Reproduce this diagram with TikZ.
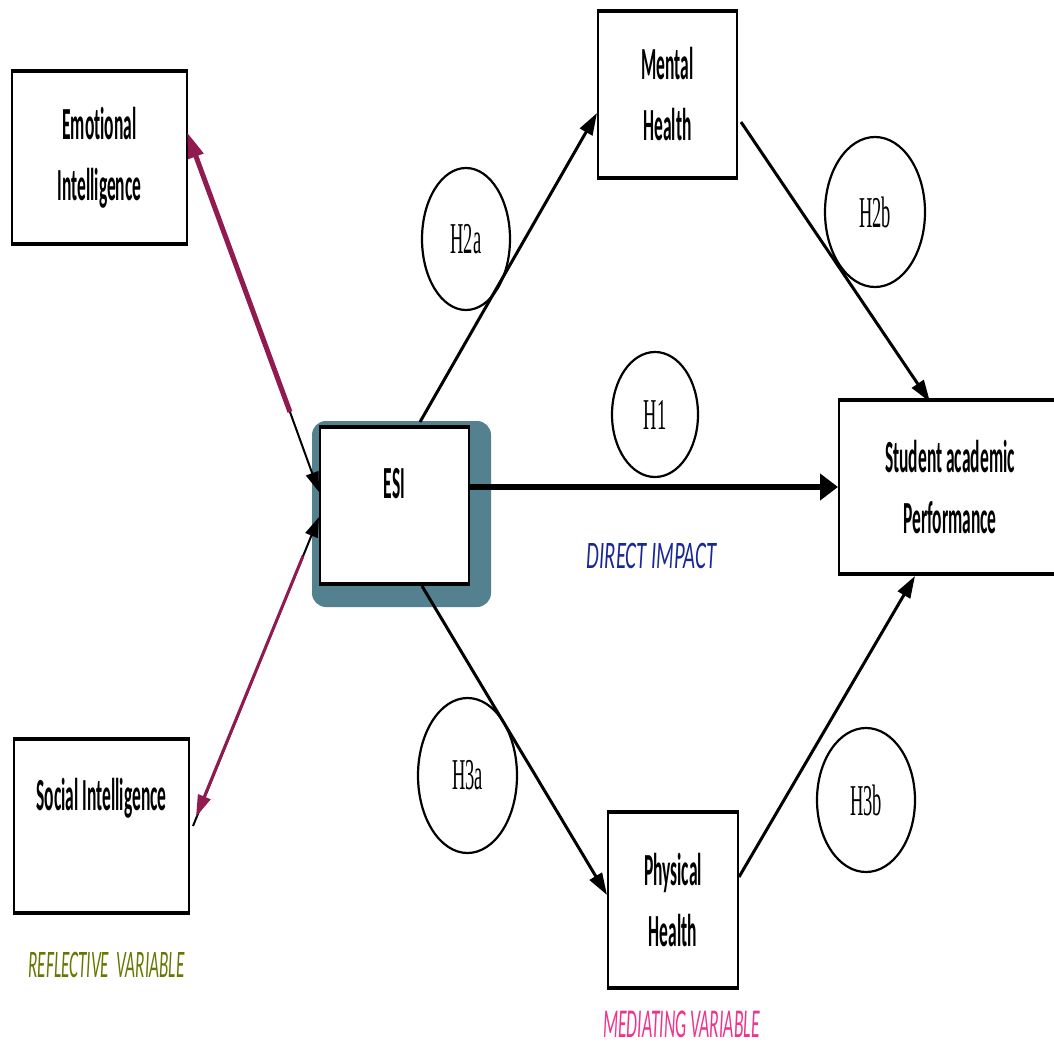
\documentclass[tikz,border=0pt]{standalone}
\usepackage{fontspec}
\usetikzlibrary{arrows.meta,calc,shapes.geometric,backgrounds}
\newfontfamily\boxfont{Carlito}[FakeStretch=0.38,Ligatures=NoCommon]
\newfontfamily\hypfont{Liberation Serif}[FakeStretch=0.42]
\newfontfamily\dirfont{Carlito}[FakeStretch=0.53,Ligatures=NoCommon]
\newfontfamily\reffont{Carlito}[FakeStretch=0.44,Ligatures=NoCommon]
\newfontfamily\medfont{Carlito}[FakeStretch=0.43,Ligatures=NoCommon]
\newcommand\boxtext{\boxfont\bfseries\fontsize{46}{61}\selectfont}
\newcommand\hyptext{\hypfont\fontsize{44}{50}\selectfont}
\definecolor{esiteal}{HTML}{53818F}
\definecolor{maroonc}{HTML}{911A50}
\definecolor{navyc}{HTML}{1A2896}
\definecolor{olivec}{HTML}{667800}
\definecolor{pinkc}{HTML}{F0328C}
\newcommand\hbars[1]{\draw[line width=4pt] (#1.north west) -- (#1.north east) (#1.south west) -- (#1.south east);}
\begin{document}
\begin{tikzpicture}[x=1pt,y=-1pt,
  box/.style={draw, fill=white, line width=2pt, inner sep=0pt, align=center, font=\boxtext},
  hyp/.style={ellipse, draw, line width=2.2pt, inner sep=0pt, font=\hyptext},
  conn/.style={line width=3pt, -{Triangle[length=22pt,width=14pt]}},
  thinconn/.style={line width=2pt, -{Triangle[length=20pt,width=13pt]}},
  bigconn/.style={line width=6pt, -{Triangle[length=18pt,width=26pt]}},
  mconn/.style={maroonc, line width=5pt, -{Triangle[length=26pt,width=15pt]}},
  mthin/.style={maroonc, line width=3pt, -{Triangle[length=22pt,width=13pt]}}
]
\useasboundingbox (0,0) rectangle (1054,1048);

% boxes
\node[box, minimum width=175pt, minimum height=171pt] (emo) at (99.5,157.5) {Emotional\\Intelligence};
\node[box, minimum width=175pt, text height=70pt, text depth=102pt] (si) at (101.5,826) {Social Intelligence};
\node[box, minimum width=149pt, text height=70pt, text depth=85pt] (esi) at (394.5,505.5) {ESI};
\node[box, minimum width=139pt, minimum height=165pt] (mh) at (667.5,94.5) {Mental\\Health};
\node[box, minimum width=222pt, minimum height=172pt] (sap) at (950,487) {Student academic\\Performance};
\node[box, minimum width=130pt, minimum height=174pt] (ph) at (673,900) {Physical\\Health};
\hbars{emo}\hbars{si}\hbars{esi}\hbars{mh}\hbars{sap}\hbars{ph}

\begin{scope}[on background layer]
\fill[esiteal, rounded corners=14pt] ([xshift=-7pt,yshift=6pt]esi.north west) rectangle ([xshift=21pt,yshift=-23pt]esi.south east);
\end{scope}

% hypothesis ellipses
\node[hyp, minimum width=88pt, minimum height=142pt] (h2a) at (466,239) {H2a};
\node[hyp, minimum width=100pt, minimum height=150pt] (h2b) at (875,212) {H2b};
\node[hyp, minimum width=86pt, minimum height=125pt] (h1) at (655,414.5) {H1};
\node[hyp, minimum width=99pt, minimum height=155pt] (h3a) at (467.5,775.5) {H3a};
\node[hyp, minimum width=98pt, minimum height=144pt] (h3b) at (866,800) {H3b};

% labels
\node[font=\dirfont\itshape\fontsize{39}{44}\selectfont, text=navyc, inner sep=0pt] (direct) at (651.5,555.5) {DIRECT IMPACT};
\node[font=\reffont\itshape\fontsize{39}{44}\selectfont, text=olivec, inner sep=0pt] (refl) at (106.5,964.5) {REFLECTIVE\ \ VARIABLE};
\node[font=\medfont\itshape\fontsize{41}{46}\selectfont, text=pinkc, inner sep=0pt] (med) at (681.5,1024) {MEDIATING VARIABLE};

% connectors
\coordinate (emid) at (290,412);
\coordinate (smid) at (303,556);
\draw[mconn] (emid) -- ([xshift=-1pt,yshift=25.5pt]emo.east);
\draw[thinconn] (emid) -- ([yshift=13.5pt]esi.west);
\draw[thinconn] ([xshift=3pt]si.east) -- ([yshift=-11.5pt]esi.west);
\draw[mthin] (smid) -- ([xshift=6pt,yshift=9pt]si.east);

\draw[conn] ([xshift=25.5pt,yshift=5pt]esi.north) -- ([yshift=-18.5pt]mh.west);
\draw[conn] ([xshift=3pt,yshift=-27.5pt]mh.east) -- ([xshift=-20pt,yshift=-2pt]sap.north);
\draw[bigconn] (sap.west -| esi.east) -- (sap.west);
\draw[conn] ([xshift=27.5pt,yshift=-2pt]esi.south) -- ([yshift=5pt]ph.west);
\draw[conn] ([yshift=23pt]ph.east) -- ([xshift=-35pt,yshift=-2pt]sap.south);
\end{tikzpicture}
\end{document}
